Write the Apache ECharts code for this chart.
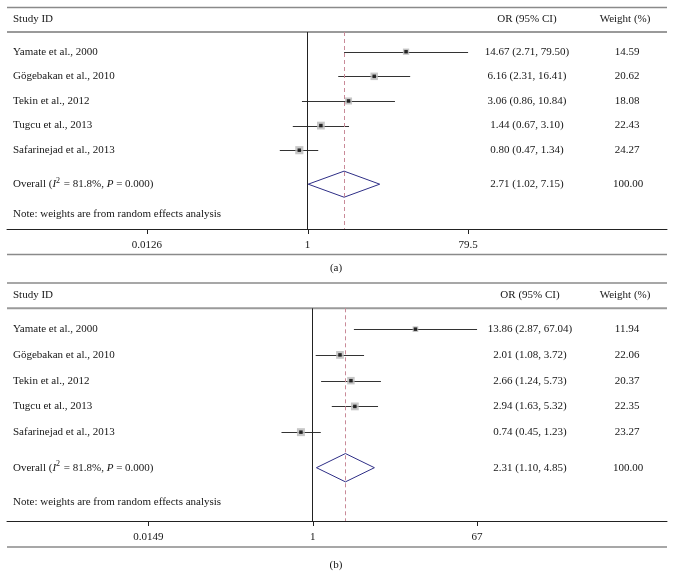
<!DOCTYPE html>
<html><head><meta charset="utf-8">
<script src="https://cdn.jsdelivr.net/npm/echarts@6/dist/echarts.min.js"></script>
<style>html,body{margin:0;padding:0;background:#fff}#c{width:674px;height:574px}</style>
</head><body><div id="c"></div>
<script>
// ---------- data ----------
const studies = ["Yamate et al., 2000", "Gögebakan et al., 2010", "Tekin et al., 2012", "Tugcu et al., 2013", "Safarinejad et al., 2013"];

const orA = [14.67, 6.16, 3.06, 1.44, 0.80];
const loA = [2.71, 2.31, 0.86, 0.67, 0.47];
const hiA = [79.50, 16.41, 10.84, 3.10, 1.34];
const wA  = [14.59, 20.62, 18.08, 22.43, 24.27];
const overallA = [2.71, 1.02, 7.15];
const overallWA = 100.00;
const ticksA = [0.0126, 1, 79.5];
const tickLabelsA = ["0.0126", "1", "79.5"];

const orB = [13.86, 2.01, 2.66, 2.94, 0.74];
const loB = [2.87, 1.08, 1.24, 1.63, 0.45];
const hiB = [67.04, 3.72, 5.73, 5.32, 1.23];
const wB  = [11.94, 22.06, 20.37, 22.35, 23.27];
const overallB = [2.31, 1.10, 4.85];
const overallWB = 100.00;
const ticksB = [0.0149, 1, 67];
const tickLabelsB = ["0.0149", "1", "67"];

const i2Text = "81.8%";
const pText = "0.000";
const noteText = "Note: weights are from random effects analysis";

// ---------- layout ----------
const FONT = '11px "Liberation Serif", "Times New Roman", serif';
const TXT = '#161616';
const OVERALL_ROW = 5.38;
const NOTE_ROW = [6.6, 6.7];
const panels = [
  {or: orA, lo: loA, hi: hiA, w: wA, ov: overallA, ovW: overallWA, ticks: ticksA, tickLabels: tickLabelsA,
   top: 32, axisY: 229, xPerDec: 84.5, oneX: 307.5, yMin: -0.8, yMax: 7.2, dh: 0.53, orX: 527, wX: 627},
  {or: orB, lo: loB, hi: hiB, w: wB, ov: overallB, ovW: overallWB, ticks: ticksB, tickLabels: tickLabelsB,
   top: 308.3, axisY: 521, xPerDec: 90, oneX: 312.7, yMin: -0.81, yMax: 7.45, dh: 0.55, orX: 530, wX: 627}
];
const L = 7, R = 667, W = 674, H = 574;

const grids = [], xAxes = [], yAxes = [], series = [];
panels.forEach((p, g) => {
  grids.push({left: L, right: W - R, top: p.top, height: p.axisY - p.top, containLabel: false});
  xAxes.push({
    type: 'log', gridIndex: g, logBase: 10,
    min: Math.pow(10, (L - p.oneX) / p.xPerDec), max: Math.pow(10, (R - p.oneX) / p.xPerDec),
    axisLine: {show: true, onZero: false, lineStyle: {color: '#222', width: 1}},
    axisTick: {show: false}, axisLabel: {show: false}, splitLine: {show: false}
  });
  yAxes.push({type: 'value', gridIndex: g, inverse: true, min: p.yMin, max: p.yMax, show: false});

  // CI lines
  series.push({
    type: 'custom', xAxisIndex: g, yAxisIndex: g, clip: false, silent: true,
    data: p.or.map((v, i) => [p.lo[i], p.hi[i], i]),
    encode: {x: [0, 1], y: 2},
    renderItem: (params, api) => {
      const a = api.coord([api.value(0), api.value(2)]);
      const b = api.coord([api.value(1), api.value(2)]);
      return {type: 'line', shape: {x1: a[0], y1: Math.round(a[1]) + 0.5, x2: b[0], y2: Math.round(b[1]) + 0.5},
              style: {stroke: '#333', lineWidth: 1}};
    }
  });
  // weight boxes
  series.push({
    type: 'scatter', xAxisIndex: g, yAxisIndex: g, silent: true, symbol: 'rect',
    data: p.or.map((v, i) => [v, i, p.w[i]]),
    symbolSize: (v) => 1.65 * Math.sqrt(v[2]),
    itemStyle: {color: '#b9b9b9'}
  });
  // point estimates
  series.push({
    type: 'scatter', xAxisIndex: g, yAxisIndex: g, silent: true, symbol: 'rect', symbolSize: 3.5,
    data: p.or.map((v, i) => [v, i]),
    itemStyle: {color: '#000'},
    markLine: {
      silent: true, symbol: ['none', 'none'], label: {show: false}, animation: false,
      data: [
        {xAxis: 1, lineStyle: {color: '#222', type: 'solid', width: 1}},
        {xAxis: p.ov[0], lineStyle: {color: '#c98a98', type: [4, 3], width: 1}}
      ]
    }
  });
  // overall diamond
  series.push({
    type: 'custom', xAxisIndex: g, yAxisIndex: g, clip: false, silent: true,
    data: [[p.ov[0], p.ov[1], p.ov[2], OVERALL_ROW]],
    encode: {x: [0, 1, 2], y: 3},
    renderItem: (params, api) => {
      const y = api.value(3);
      const pts = [
        api.coord([api.value(1), y]),
        api.coord([api.value(0), y - p.dh]),
        api.coord([api.value(2), y]),
        api.coord([api.value(0), y + p.dh])
      ];
      return {type: 'polygon', shape: {points: pts}, style: {fill: 'none', stroke: '#2e2e86', lineWidth: 1}};
    }
  });
  // axis ticks + labels
  series.push({
    type: 'custom', xAxisIndex: g, yAxisIndex: g, clip: false, silent: true,
    data: p.ticks.map((v, i) => [v, p.yMax, i]),
    encode: {x: 0, y: 1},
    renderItem: (params, api) => {
      const c = api.coord([api.value(0), api.value(1)]);
      const x = Math.round(c[0]) + 0.5;
      return {type: 'group', children: [
        {type: 'line', shape: {x1: x, y1: c[1], x2: x, y2: c[1] + 5}, style: {stroke: '#222', lineWidth: 1}},
        {type: 'text', x: c[0], y: c[1] + 16, style: {text: p.tickLabels[api.value(2)], font: FONT, fill: TXT, align: 'center', verticalAlign: 'middle'}}
      ]};
    }
  });
});

const chart = echarts.init(document.getElementById('c'), null, {renderer: 'canvas'});
chart.setOption({animation: false, grid: grids, xAxis: xAxes, yAxis: yAxes, series: series});

// ---------- table text and rules ----------
const gfx = [];
function hline(y, w, color) {
  gfx.push({type: 'line', silent: true, shape: {x1: L, y1: y, x2: R, y2: y}, style: {stroke: color, lineWidth: w}});
}
function txt(x, y, text, align, extra) {
  gfx.push({type: 'text', silent: true, x: x, y: y,
    style: Object.assign({text: text, font: FONT, fill: TXT, align: align, verticalAlign: 'middle'}, extra || {})});
}
const panelRules = [
  {topLine: 7.5, head: 19.5, headLine: 32, bottomLine: 254.5, cap: 268, capText: '(a)'},
  {topLine: 283, head: 295.5, headLine: 308.3, bottomLine: 547, cap: 565.5, capText: '(b)'}
];
panels.forEach((p, g) => {
  const r = panelRules[g];
  hline(r.topLine, 1.3, '#8a8a8a');
  hline(r.headLine, 2, '#9a9a9a');
  hline(r.bottomLine, 1.3, '#8a8a8a');
  txt(13, r.head, 'Study ID', 'left');
  txt(p.orX, r.head, 'OR (95% CI)', 'center');
  txt(p.wX - 2, r.head, 'Weight (%)', 'center');
  txt(336, r.cap, r.capText, 'center');
  studies.forEach((s, i) => {
    const y = chart.convertToPixel({gridIndex: g}, [1, i])[1];
    txt(13, y, s, 'left');
    txt(p.orX, y, p.or[i].toFixed(2) + ' (' + p.lo[i].toFixed(2) + ', ' + p.hi[i].toFixed(2) + ')', 'center');
    txt(p.wX, y, p.w[i].toFixed(2), 'center');
  });
  const yo = chart.convertToPixel({gridIndex: g}, [1, OVERALL_ROW])[1];
  txt(13, yo, 'Overall ({i|I}{sup|2} = ' + i2Text + ', {i|P} = ' + pText + ')', 'left', {
    rich: {i: {font: 'italic 11px "Liberation Serif", serif', fill: TXT},
           sup: {font: '8px "Liberation Serif", serif', fill: TXT, padding: [0, 1, 7, 0]}}
  });
  txt(p.orX, yo, p.ov[0].toFixed(2) + ' (' + p.ov[1].toFixed(2) + ', ' + p.ov[2].toFixed(2) + ')', 'center');
  txt(p.wX + 1, yo, p.ovW.toFixed(2), 'center');
  const yn = chart.convertToPixel({gridIndex: g}, [1, NOTE_ROW[g]])[1];
  txt(13, yn, noteText, 'left');
});
chart.setOption({graphic: gfx});
</script>
</body></html>
